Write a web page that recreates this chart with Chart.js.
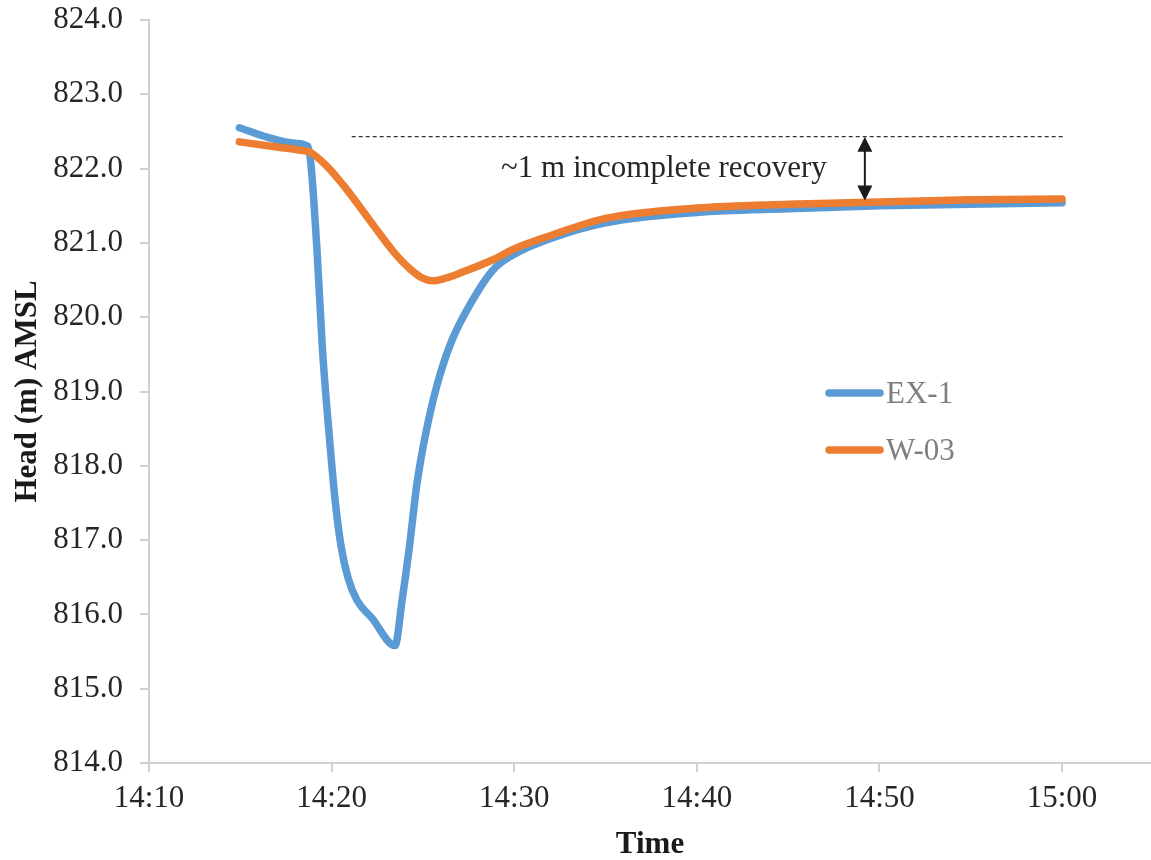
<!DOCTYPE html>
<html>
<head>
<meta charset="utf-8">
<script src="https://cdn.jsdelivr.net/npm/chart.js@4/dist/chart.umd.min.js"></script>
<style>
  body { margin: 0; background: #fff; }
  canvas { display: block; }
</style>
</head>
<body>
<canvas id="chart" width="1151" height="860"></canvas>
<script>
// time is minutes after 14:00
const ex1Time = [14.95, 16.5, 18.0, 18.7, 18.87, 19.2, 19.5, 19.86, 20.19, 20.51, 20.9, 21.39, 22.21, 23.47,
                 23.86, 24.24, 24.68, 25.16, 25.8, 26.59, 27.6, 28.85, 30.1, 32.0, 35.0, 40.0, 45.0, 50.0, 55.0, 60.0];
const ex1Head = [822.55, 822.42, 822.34, 822.30, 822.05, 820.9, 819.56, 818.44, 817.54, 816.93, 816.49, 816.19, 815.95, 815.58,
                 816.19, 816.87, 817.77, 818.44, 819.11, 819.69, 820.18, 820.64, 820.86, 821.06, 821.27, 821.41, 821.46, 821.5, 821.52, 821.54];

const w03Time = [14.95, 17.0, 18.2, 18.82, 19.75, 20.63, 21.56, 22.49, 23.36, 24.29, 24.95, 25.55, 26.3, 27.1, 28.8,
                 30.0, 32.0, 35.0, 40.0, 45.0, 50.0, 55.0, 60.0];
const w03Head = [822.36, 822.29, 822.25, 822.22, 822.03, 821.78, 821.48, 821.17, 820.89, 820.65, 820.53, 820.49, 820.53, 820.6, 820.77,
                 820.92, 821.1, 821.33, 821.47, 821.52, 821.55, 821.58, 821.59];

const seriesNames = ["EX-1", "W-03"];
const seriesColors = ["#5b9bd5", "#ed7d31"];

const xTickMinutes = [10, 20, 30, 40, 50, 60];
const xTickLabels = ["14:10", "14:20", "14:30", "14:40", "14:50", "15:00"];

// annotation: pre-test level and the recovery gap
const preTestLevel = 822.43;
const dashStart = 21.1, dashEnd = 60.2;
const arrowTime = 49.2, arrowBottom = 821.57;
const noteText = "~1 m incomplete recovery";
const noteTime = 38.2, noteHead = 821.89;

const FONT = "'Liberation Serif', 'Times New Roman', serif";

function toPoints(xs, ys) {
  return xs.map((x, i) => ({ x: x, y: ys[i] }));
}

const annotationPlugin = {
  id: "recoveryNote",
  afterDatasetsDraw(chart) {
    const ctx = chart.ctx;
    const xs = chart.scales.x, ys = chart.scales.y;
    ctx.save();
    // dashed pre-test line
    const yLine = ys.getPixelForValue(preTestLevel);
    ctx.strokeStyle = "#333";
    ctx.lineWidth = 1.3;
    ctx.setLineDash([4, 3]);
    ctx.beginPath();
    ctx.moveTo(xs.getPixelForValue(dashStart), yLine);
    ctx.lineTo(xs.getPixelForValue(dashEnd), yLine);
    ctx.stroke();
    ctx.setLineDash([]);

    // double arrow
    const ax = xs.getPixelForValue(arrowTime);
    const yBot = ys.getPixelForValue(arrowBottom);
    ctx.strokeStyle = "#1a1a1a";
    ctx.fillStyle = "#1a1a1a";
    ctx.lineWidth = 2;
    ctx.beginPath();
    ctx.moveTo(ax, yLine + 10);
    ctx.lineTo(ax, yBot - 10);
    ctx.stroke();
    ctx.beginPath();
    ctx.moveTo(ax, yLine);
    ctx.lineTo(ax - 7.5, yLine + 15);
    ctx.lineTo(ax + 7.5, yLine + 15);
    ctx.closePath();
    ctx.fill();
    ctx.beginPath();
    ctx.moveTo(ax, yBot);
    ctx.lineTo(ax - 7.5, yBot - 15);
    ctx.lineTo(ax + 7.5, yBot - 15);
    ctx.closePath();
    ctx.fill();

    // note text
    ctx.font = "31px " + FONT;
    ctx.fillStyle = "#262626";
    ctx.textAlign = "center";
    ctx.textBaseline = "alphabetic";
    ctx.fillText(noteText, xs.getPixelForValue(noteTime), ys.getPixelForValue(noteHead));
    ctx.restore();
  }
};

const legendPlugin = {
  id: "insideLegend",
  afterDraw(chart) {
    const ctx = chart.ctx;
    ctx.save();
    ctx.font = "31px " + FONT;
    ctx.textBaseline = "middle";
    ctx.textAlign = "left";
    chart.data.datasets.forEach((ds, i) => {
      const y = 393 + i * 57;
      ctx.strokeStyle = ds.borderColor;
      ctx.lineWidth = 7.5;
      ctx.lineCap = "round";
      ctx.beginPath();
      ctx.moveTo(829, y);
      ctx.lineTo(880, y);
      ctx.stroke();
      ctx.fillStyle = "#7f7f7f";
      ctx.fillText(ds.label, 886, y + 2);
    });
    ctx.restore();
  }
};

function lineSet(i, xs, ys, order) {
  return {
    label: seriesNames[i],
    data: toPoints(xs, ys),
    borderColor: seriesColors[i],
    borderWidth: 7.5,
    borderCapStyle: "round",
    borderJoinStyle: "round",
    pointRadius: 0,
    cubicInterpolationMode: "monotone",
    fill: false,
    order: order
  };
}

new Chart(document.getElementById("chart"), {
  type: "line",
  data: {
    datasets: [
      lineSet(0, ex1Time, ex1Head, 2),
      lineSet(1, w03Time, w03Head, 1)
    ]
  },
  options: {
    responsive: false,
    animation: false,
    layout: { padding: { top: 20, right: 0, left: 0, bottom: 0 } },
    plugins: {
      legend: { display: false },
      tooltip: { enabled: false }
    },
    scales: {
      x: {
        type: "linear",
        min: 10,
        max: 64.87,
        afterBuildTicks: function (scale) {
          scale.ticks = xTickMinutes.map(v => ({ value: v }));
        },
        afterFit: function (scale) {
          scale.height = 97;
          scale.paddingLeft = 0;
          scale.paddingRight = 0;
        },
        ticks: {
          autoSkip: false,
          maxRotation: 0,
          padding: 8,
          color: "#262626",
          font: { family: FONT, size: 31 },
          callback: function (value) {
            const i = xTickMinutes.indexOf(value);
            return i >= 0 ? xTickLabels[i] : "";
          }
        },
        grid: {
          display: true,
          drawOnChartArea: false,
          drawTicks: true,
          tickLength: 9,
          color: "#d0d0d0",
          lineWidth: 2
        },
        border: { display: true, color: "#d0d0d0", width: 2 },
        title: {
          display: true,
          text: "Time",
          color: "#1a1a1a",
          font: { family: FONT, size: 31, weight: "bold", lineHeight: 1 },
          padding: { top: 0, bottom: 0 }
        }
      },
      y: {
        min: 814,
        max: 824,
        afterFit: function (scale) {
          scale.width = 149;
          scale.paddingTop = 0;
          scale.paddingBottom = 0;
        },
        ticks: {
          stepSize: 1,
          padding: 17,
          color: "#262626",
          font: { family: FONT, size: 31 },
          callback: function (value) { return value.toFixed(1); }
        },
        grid: {
          display: true,
          drawOnChartArea: false,
          drawTicks: true,
          tickLength: 9,
          color: "#d0d0d0",
          lineWidth: 2
        },
        border: { display: true, color: "#d0d0d0", width: 2 },
        title: {
          display: true,
          text: "Head (m) AMSL",
          color: "#1a1a1a",
          font: { family: FONT, size: 31, weight: "bold", lineHeight: 1 },
          padding: { top: 12, bottom: 0 }
        }
      }
    }
  },
  plugins: [annotationPlugin, legendPlugin]
});
</script>
</body>
</html>
